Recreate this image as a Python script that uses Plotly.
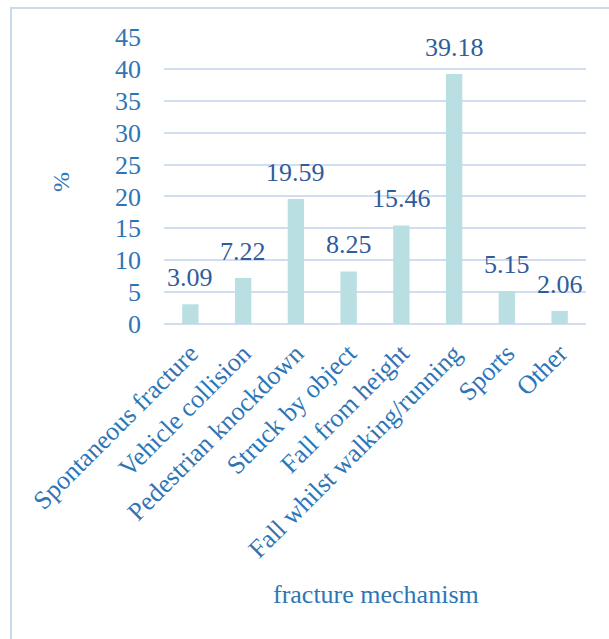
import plotly.graph_objects as go

categories = ["Spontaneous fracture", "Vehicle collision", "Pedestrian knockdown",
              "Struck by object", "Fall from height", "Fall whilst walking/running",
              "Sports", "Other"]
values = [3.09, 7.22, 19.59, 8.25, 15.46, 39.18, 5.15, 2.06]
y_ticks = [0, 5, 10, 15, 20, 25, 30, 35, 40, 45]

FONT = "Liberation Serif"
BLUE = "#2E75B6"
LABEL_BLUE = "#2F5C9A"

fig = go.Figure()
fig.add_trace(go.Bar(x=categories, y=values, marker_color="#B9DFE2",
                     marker_line_width=0, hoverinfo="skip"))

for c, v in zip(categories, values):
    fig.add_annotation(x=c, y=v, text=f"{v:.2f}", showarrow=False,
                       yanchor="bottom", yshift=10,
                       font=dict(family=FONT, size=26, color=LABEL_BLUE))

# axis titles
fig.add_annotation(xref="paper", yref="paper", x=0.502, y=-0.944,
                   xanchor="center", yanchor="middle", showarrow=False,
                   text="fracture mechanism",
                   font=dict(family=FONT, size=26, color=BLUE))
fig.add_annotation(xref="paper", yref="paper", x=-0.244, y=0.495,
                   xanchor="center", yanchor="middle", showarrow=False,
                   text="%", textangle=-90,
                   font=dict(family=FONT, size=24, color=BLUE))

fig.add_shape(type="rect", xref="paper", yref="paper",
              x0=-0.3626, x1=1.2, y0=-1.2, y1=1.101,
              line=dict(color="#C9DAEE", width=2), layer="below")

fig.update_layout(
    width=609, height=639,
    margin=dict(l=164, r=23, t=37, b=315),
    paper_bgcolor="white", plot_bgcolor="white",
    showlegend=False, bargap=0.69,
    font=dict(family=FONT, color=BLUE),
    xaxis=dict(tickangle=-45, tickfont=dict(family=FONT, size=26, color=BLUE),
               showgrid=False, showline=False, ticks="",
               ticklabelstandoff=8),
    yaxis=dict(range=[0, 45], tickvals=y_ticks, showgrid=True,
               gridcolor="#D0DEF0", gridwidth=2, zeroline=True,
               zerolinecolor="#D0DEF0", zerolinewidth=2,
               tickfont=dict(family=FONT, size=26, color=BLUE),
               ticklabelstandoff=22),
)

fig.write_html("out.html")
